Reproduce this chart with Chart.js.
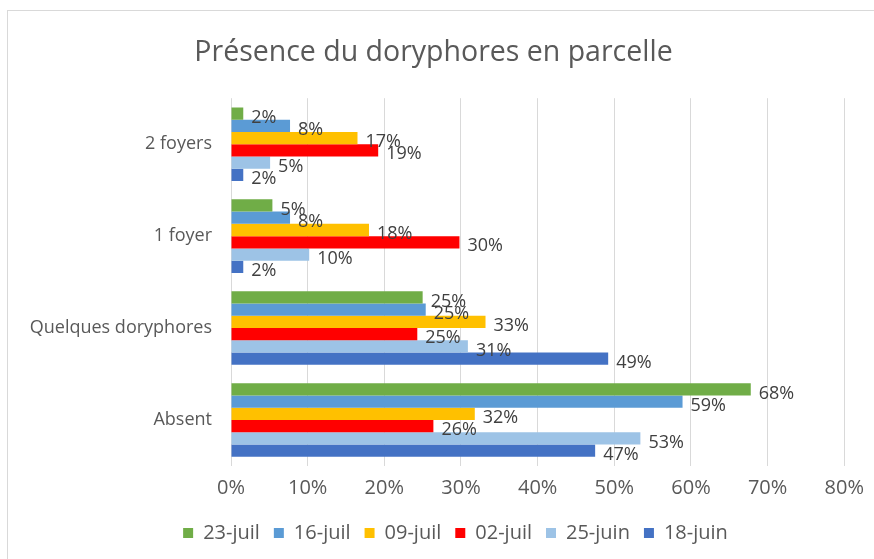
<!DOCTYPE html>
<html>
<head>
<meta charset="utf-8">
<script src="https://cdn.jsdelivr.net/npm/chart.js@4"></script>
<style>
  html, body { margin: 0; padding: 0; background: #fff; }
  #wrap { position: relative; width: 874px; height: 559px; overflow: hidden; }
  #frame { position: absolute; left: 7px; top: 10px; width: 900px; height: 600px;
           border-left: 1px solid #d9d9d9; border-top: 1px solid #d9d9d9; }
  canvas { position: absolute; left: 0; top: 0; }
</style>
</head>
<body>
<div id="wrap">
  <div id="frame"></div>
  <canvas id="chart" width="874" height="559"></canvas>
</div>
<script>
const categories = ['2 foyers', '1 foyer', 'Quelques doryphores', 'Absent'];
const seriesNames = ['23-juil', '16-juil', '09-juil', '02-juil', '25-juin', '18-juin'];

// values per series, in the category order above (%)
const juil23 = [1.6, 5.4, 25.0, 67.8];
const juil16 = [7.7, 7.7, 25.4, 58.9];
const juil09 = [16.5, 18.0, 33.2, 31.8];
const juil02 = [19.2, 29.8, 24.3, 26.4];
const juin25 = [5.1, 10.2, 30.9, 53.4];
const juin18 = [1.6, 1.6, 49.2, 47.5];

// labels shown next to bars
const labels23 = [2, 5, 25, 68];
const labels16 = [8, 8, 25, 59];
const labels09 = [17, 18, 33, 32];
const labels02 = [19, 30, 25, 26];
const labels25 = [5, 10, 31, 53];
const labels18 = [2, 2, 49, 47];

const xTicks = [0, 10, 20, 30, 40, 50, 60, 70, 80];

const colors = ['#70AD47', '#5B9BD5', '#FFC000', '#FF0000', '#9DC3E6', '#4472C4'];
const seriesValues = [juil23, juil16, juil09, juil02, juin25, juin18];
const seriesLabels = [labels23, labels16, labels09, labels02, labels25, labels18];

const FONT = '"Open Sans", sans-serif';
const TEXT = '#595959';

const barLabels = {
  id: 'barLabels',
  afterDatasetsDraw(chart) {
    const ctx = chart.ctx;
    ctx.save();
    ctx.font = '18px ' + FONT;
    ctx.fillStyle = '#404040';
    ctx.textBaseline = 'middle';
    ctx.textAlign = 'left';
    chart.data.datasets.forEach((ds, i) => {
      const meta = chart.getDatasetMeta(i);
      meta.data.forEach((bar, j) => {
        ctx.fillText(seriesLabels[i][j] + '%', bar.x + 8, bar.y + 4);
      });
    });
    ctx.restore();
  }
};

const chart = new Chart(document.getElementById('chart'), {
  type: 'bar',
  data: {
    labels: categories,
    datasets: seriesNames.map((name, i) => ({
      label: name,
      data: seriesValues[i],
      backgroundColor: colors[i],
      borderWidth: 0,
      barPercentage: 1,
      categoryPercentage: 0.8,
    })),
  },
  options: {
    indexAxis: 'y',
    responsive: false,
    animation: false,
    layout: { padding: { left: 0, right: 7, top: 36, bottom: 6 } },
    plugins: {
      title: {
        display: true,
        text: 'Présence du doryphores en parcelle',
        color: TEXT,
        font: { family: FONT, size: 28.5, weight: 'normal' },
        padding: { top: 0, bottom: 28 },
      },
      legend: {
        position: 'bottom',
        labels: {
          color: TEXT,
          font: { family: FONT, size: 20 },
          boxWidth: 10,
          boxHeight: 10,
          padding: 14,
        },
      },
      tooltip: { enabled: false },
    },
    scales: {
      x: {
        min: 0,
        max: 80,
        afterBuildTicks: scale => { scale.ticks = xTicks.map(v => ({ value: v })); },
        afterFit: scale => { scale.height = 43; },
        ticks: { color: TEXT, font: { family: FONT, size: 20 }, padding: 10, callback: v => v + '%' },
        grid: { color: '#d9d9d9', drawTicks: false },
        border: { display: false },
      },
      y: {
        afterFit: scale => { scale.width = 231; },
        ticks: { color: TEXT, font: { family: FONT, size: 18 }, padding: 11 },
        grid: { display: false },
        border: { display: false },
      },
    },
  },
  plugins: [barLabels],
});

// legend sits a little right of centre in the original
const legendDraw = chart.legend.draw;
chart.legend.draw = function () {
  chart.ctx.save();
  chart.ctx.translate(22, 0);
  legendDraw.apply(this, arguments);
  chart.ctx.restore();
};
chart.draw();
</script>
</body>
</html>
